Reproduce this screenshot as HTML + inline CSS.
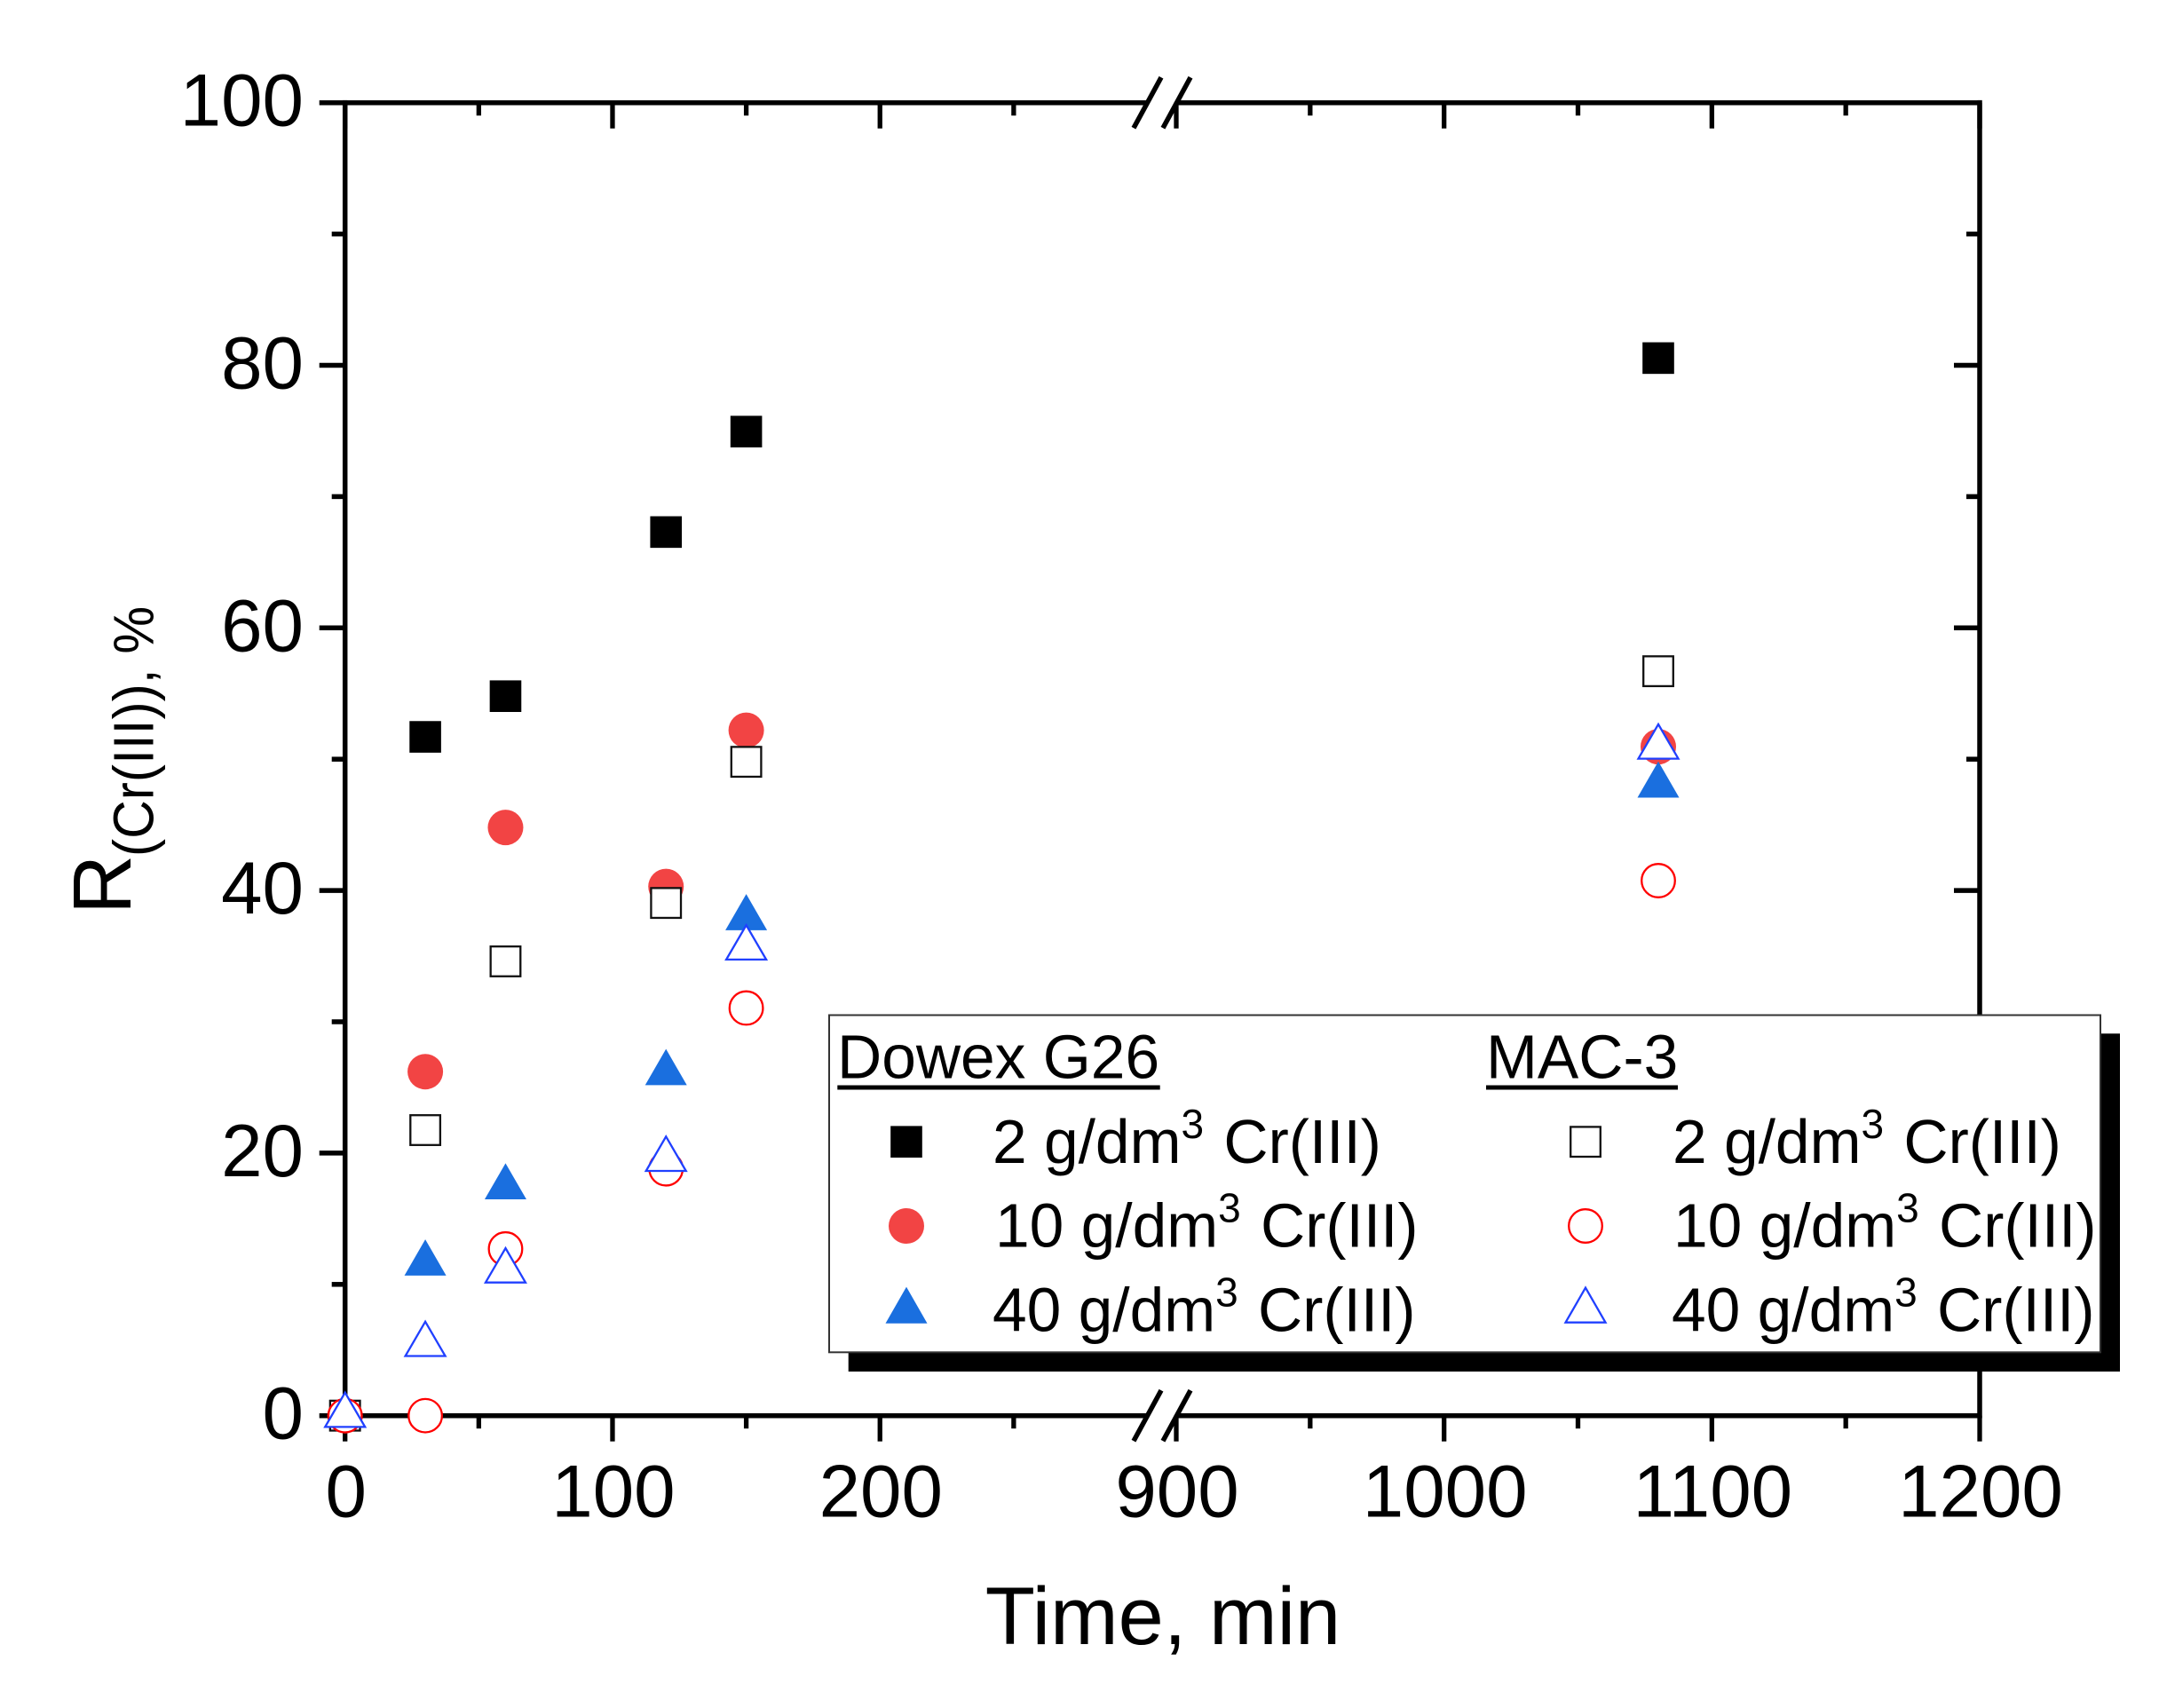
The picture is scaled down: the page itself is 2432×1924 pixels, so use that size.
<!DOCTYPE html>
<html lang="en">
<head>
<meta charset="utf-8">
<title>Cr(III) removal versus time</title>
<style>
html,body{margin:0;padding:0;background:#fff;}
svg{display:block;}
text{font-family:"Liberation Sans",Arial,sans-serif;fill:#000;}
</style>
</head>
<body>
<svg id="chart" xmlns="http://www.w3.org/2000/svg" width="2432" height="1924" viewBox="0 0 2432 1924">
  <rect x="0" y="0" width="2432" height="1924" fill="#fff"/>
  <g id="axes"></g>
  <g id="tick-labels"></g>
  <g id="marks"></g>

  <text x="1310" y="1852" font-size="92" text-anchor="middle">Time, min</text>
  <g>
    <text transform="translate(147,1030) rotate(-90)" font-size="93">R</text>
    <text transform="translate(172.7,965) rotate(-90) scale(.945,1)" font-size="64">(Cr(III)), %</text>
  </g>

  <g>
    <rect x="955.7" y="1164.3" width="1432.3" height="380.7" fill="#000"/>
    <rect x="934" y="1143.5" width="1432" height="379.8" fill="#fff" stroke="#333" stroke-width="2"/>

    <text x="943" y="1214.3" font-size="69.5">Dowex G26</text>
    <rect x="943.3" y="1222.5" width="363.4" height="5" fill="#000"/>
    <text x="1674" y="1214.3" font-size="69.5">MAC-3</text>
    <rect x="1674" y="1222.5" width="216" height="5" fill="#000"/>

    <rect x="1003.2" y="1268.4" width="35.6" height="35.6" fill="#000"/>
    <circle cx="1021" cy="1381" r="20" fill="#F24444"/>
    <polygon points="1021,1449.6 1044.5,1490.7 997.5,1490.7" fill="#1A6FDF"/>
    <rect x="1769.2" y="1269.4" width="33.6" height="33.6" fill="#fff" stroke="#111" stroke-width="2.3"/>
    <circle cx="1786" cy="1381" r="18.8" fill="#fff" stroke="#ff0000" stroke-width="2.3"/>
    <polygon points="1786,1450.6 1808.5,1489.7 1763.5,1489.7" fill="#fff" stroke="#2040ff" stroke-width="2.3"/>

    <text x="1118" y="1310" font-size="69.5">2 g/dm<tspan font-size="46" dy="-28">3</tspan><tspan dy="28" dx="3"> Cr(III)</tspan></text>
    <text x="1121" y="1404.7" font-size="69.5">10 g/dm<tspan font-size="46" dy="-28">3</tspan><tspan dy="28" dx="3"> Cr(III)</tspan></text>
    <text x="1118" y="1499.3" font-size="69.5">40 g/dm<tspan font-size="46" dy="-28">3</tspan><tspan dy="28" dx="3"> Cr(III)</tspan></text>
    <text x="1884" y="1310" font-size="69.5">2 g/dm<tspan font-size="46" dy="-28">3</tspan><tspan dy="28" dx="3"> Cr(III)</tspan></text>
    <text x="1885" y="1404.7" font-size="69.5">10 g/dm<tspan font-size="46" dy="-28">3</tspan><tspan dy="28" dx="3"> Cr(III)</tspan></text>
    <text x="1883" y="1499.3" font-size="69.5">40 g/dm<tspan font-size="46" dy="-28">3</tspan><tspan dy="28" dx="3"> Cr(III)</tspan></text>
  </g>
</svg>
<script>
// ---- data ----
var timeValues = [0, 30, 60, 120, 150, 1080];
var dowex2Values = [0, 51.7, 54.8, 67.3, 74.95, 80.55];
var dowex10Values = [0, 26.2, 44.8, 40.3, 52.2, 50.95];
var dowex40Values = [0, 11.6, 17.4, 26.1, 37.9, 48.0];
var mac2Values = [0, 21.75, 34.6, 39.05, 49.8, 56.7];
var mac10Values = [0, 0, 12.7, 18.8, 31.05, 40.75];
var mac40Values = [0, 5.4, 11.0, 19.5, 35.6, 50.9];
var xMajorTicks = [0, 100, 200, 900, 1000, 1100, 1200];
var xMinorTicks = [50, 150, 250, 950, 1050, 1150];
var yMajorTicks = [0, 20, 40, 60, 80, 100];
var yMinorTicks = [10, 30, 50, 70, 90];
var xBreakStart = 300;
var xBreakEnd = 900;
var xAxisMin = 0;
var xAxisMax = 1200;

// ---- axis functions ----
var SVG_NS = 'http://www.w3.org/2000/svg';
var plotLeft = 388.7, plotRight = 2230, plotTop = 115.7, plotBottom = 1594.7;
var leftSegmentEnd = 1292.5, rightSegmentStart = 1325;

function xScale(v) {
  if (v <= xBreakStart) {
    return plotLeft + (v - xAxisMin) * (leftSegmentEnd - plotLeft) / (xBreakStart - xAxisMin);
  }
  return rightSegmentStart + (v - xBreakEnd) * (plotRight - rightSegmentStart) / (xAxisMax - xBreakEnd);
}
function yScale(v) {
  return plotBottom - v * (plotBottom - plotTop) / 100;
}
function make(tag, attrs) {
  var el = document.createElementNS(SVG_NS, tag);
  for (var k in attrs) { el.setAttribute(k, attrs[k]); }
  return el;
}

var axes = document.getElementById('axes');
var labels = document.getElementById('tick-labels');
var marks = document.getElementById('marks');

function axisLine(name, x1, y1, x2, y2, width) {
  var el = make('line', {x1: x1, y1: y1, x2: x2, y2: y2, stroke: '#000', 'stroke-width': width});
  
  
  axes.appendChild(el);
}

// axis spines
axisLine('y-axis-left', plotLeft, plotTop - 2.8, plotLeft, plotBottom + 2.8, 5.5);
axisLine('y-axis-right', plotRight, plotTop - 2.8, plotRight, plotBottom + 2.8, 5.5);
axisLine('x-axis-bottom-left-segment', plotLeft, plotBottom, leftSegmentEnd, plotBottom, 5.5);
axisLine('x-axis-bottom-right-segment', rightSegmentStart, plotBottom, plotRight, plotBottom, 5.5);
axisLine('x-axis-top-left-segment', plotLeft, plotTop, leftSegmentEnd, plotTop, 5.5);
axisLine('x-axis-top-right-segment', rightSegmentStart, plotTop, plotRight, plotTop, 5.5);

// axis-break slashes
[plotTop, plotBottom].forEach(function (yc) {
  axisLine('axis-break-slash', 1308, yc - 28.5, 1277, yc + 28.5, 5.5);
  axisLine('axis-break-slash', 1341, yc - 28.5, 1310, yc + 28.5, 5.5);
});

// x ticks
xMajorTicks.forEach(function (v) {
  var x = xScale(v);
  axisLine('x-major-tick-bottom', x, plotBottom, x, plotBottom + 29, 5.3);
  axisLine('x-major-tick-top', x, plotTop, x, plotTop + 29, 5.3);
});
xMinorTicks.forEach(function (v) {
  var x = xScale(v);
  axisLine('x-minor-tick-bottom', x, plotBottom, x, plotBottom + 14.5, 5.3);
  axisLine('x-minor-tick-top', x, plotTop, x, plotTop + 14.5, 5.3);
});

// y ticks
yMajorTicks.forEach(function (v) {
  var y = yScale(v);
  axisLine('y-major-tick-left', plotLeft, y, plotLeft - 29, y, 5.5);
  axisLine('y-major-tick-right', plotRight, y, plotRight - 29, y, 5.5);
});
yMinorTicks.forEach(function (v) {
  var y = yScale(v);
  axisLine('y-minor-tick-left', plotLeft, y, plotLeft - 15, y, 5.5);
  axisLine('y-minor-tick-right', plotRight, y, plotRight - 15, y, 5.5);
});

// tick labels
xMajorTicks.forEach(function (v) {
  var t = make('text', {x: xScale(v) + 1, y: 1708.5, 'font-size': 83.5, 'text-anchor': 'middle'});
  
  
  t.textContent = String(v);
  labels.appendChild(t);
});
yMajorTicks.forEach(function (v) {
  var t = make('text', {x: 342, y: yScale(v) + 26, 'font-size': 83.5, 'text-anchor': 'end'});
  
  
  t.textContent = String(v);
  labels.appendChild(t);
});

// marker shapes
function square(cx, cy, fill, stroke) {
  var half = stroke === 'none' ? 17.8 : 16.8;
  return make('rect', {x: cx - half, y: cy - half, width: half * 2, height: half * 2, fill: fill, stroke: stroke, 'stroke-width': 2.3});
}
function circle(cx, cy, fill, stroke) {
  return make('circle', {cx: cx, cy: cy, r: stroke === 'none' ? 20 : 18.8, fill: fill, stroke: stroke, 'stroke-width': 2.3});
}
function triangle(cx, cy, fill, stroke) {
  var inset = stroke === 'none' ? 0 : 1;
  var hw = 23.5 - inset;
  var p = [cx, cy - 27 + inset, cx + hw, cy + 13.7 - inset, cx - hw, cy + 13.7 - inset];
  return make('polygon', {points: p[0] + ',' + p[1] + ' ' + p[2] + ',' + p[3] + ' ' + p[4] + ',' + p[5], fill: fill, stroke: stroke, 'stroke-width': 2.3});
}

function drawSeries(name, values, shape, fill, stroke) {
  var g = make('g', {});
  
  
  values.forEach(function (v, i) {
    var m = shape(xScale(timeValues[i]), yScale(v), fill, stroke);
    
    
    g.appendChild(m);
  });
  marks.appendChild(g);
}

drawSeries('series-dowex-2', dowex2Values, square, '#000', 'none');
drawSeries('series-dowex-10', dowex10Values, circle, '#F24444', 'none');
drawSeries('series-dowex-40', dowex40Values, triangle, '#1A6FDF', 'none');
drawSeries('series-mac-2', mac2Values, square, '#fff', '#111');
drawSeries('series-mac-10', mac10Values, circle, '#fff', '#ff0000');
drawSeries('series-mac-40', mac40Values, triangle, '#fff', '#2040ff');
</script>
</body>
</html>
